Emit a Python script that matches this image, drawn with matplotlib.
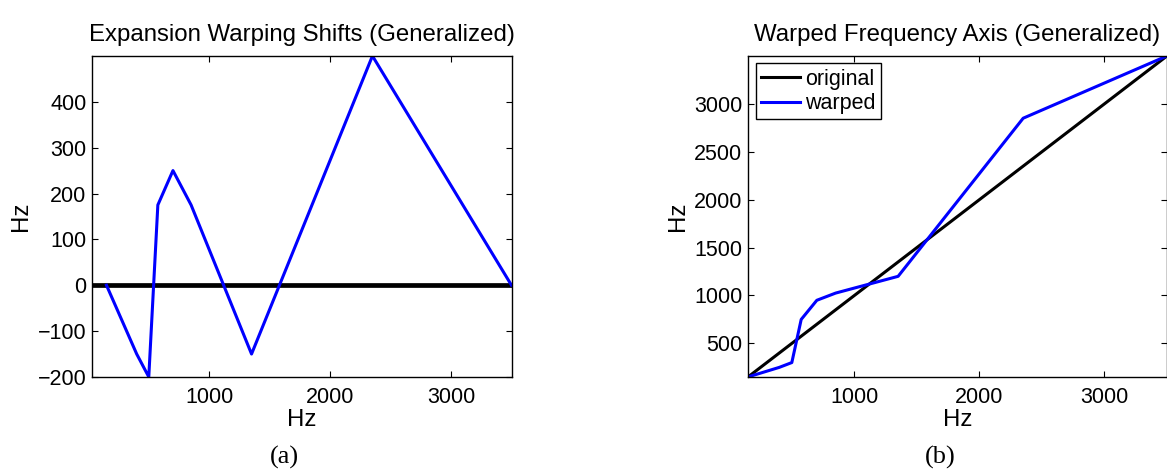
import numpy as np
import matplotlib
matplotlib.use('Agg')
import matplotlib.pyplot as plt

# breakpoints of the piecewise-linear warp (Hz)
freq = [150, 400, 500, 575, 700, 850, 1350, 2350, 3500]
shift = [0, -150, -200, 175, 250, 175, -150, 500, 0]
warped = [f + s for f, s in zip(freq, shift)]

x_ticks = [1000, 2000, 3000]
shift_ticks = [-200, -100, 0, 100, 200, 300, 400]
axis_ticks = [500, 1000, 1500, 2000, 2500, 3000]

plt.rcParams['font.family'] = 'Liberation Sans'
plt.rcParams['axes.linewidth'] = 1.0
plt.rcParams['xtick.direction'] = 'in'
plt.rcParams['ytick.direction'] = 'in'
plt.rcParams['xtick.top'] = True
plt.rcParams['ytick.right'] = True
plt.rcParams['xtick.major.size'] = 4
plt.rcParams['ytick.major.size'] = 4
plt.rcParams['xtick.major.pad'] = 7
plt.rcParams['ytick.major.pad'] = 4

TICK_FS = 15.5
LABEL_FS = 17.3

fig = plt.figure(figsize=(11.67, 4.70), dpi=100, facecolor='white')

# --- (a) shifts ---
ax1 = fig.add_axes([0.0788, 0.198, 0.360, 0.683])
ax1.plot([0, 3500], [0, 0], color='black', linewidth=3.4)
ax1.plot(freq, shift, color='blue', linewidth=2.2)
ax1.set_xlim(30, 3505)
ax1.set_ylim(-200, 500)
ax1.set_xticks(x_ticks)
ax1.set_yticks(shift_ticks)
ax1.tick_params(labelsize=TICK_FS)
ax1.set_title('Expansion Warping Shifts (Generalized)', fontsize=LABEL_FS, pad=11)
ax1.set_xlabel('Hz', fontsize=LABEL_FS, labelpad=1)
ax1.set_ylabel('Hz', fontsize=LABEL_FS, labelpad=4)

# --- (b) warped axis ---
ax2 = fig.add_axes([0.641, 0.198, 0.359, 0.683])
ax2.plot([freq[0], freq[-1]], [freq[0], freq[-1]], color='black',
         linewidth=2.2, label='original')
ax2.plot(freq, warped, color='blue', linewidth=2.2, label='warped')
ax2.set_xlim(150, 3500)
ax2.set_ylim(150, 3500)
ax2.set_xticks(x_ticks)
ax2.set_yticks(axis_ticks)
ax2.tick_params(labelsize=TICK_FS)
ax2.set_title('Warped Frequency Axis (Generalized)', fontsize=LABEL_FS, pad=11)
ax2.set_xlabel('Hz', fontsize=LABEL_FS, labelpad=1)
ax2.set_ylabel('Hz', fontsize=LABEL_FS, labelpad=4)
leg = ax2.legend(loc='upper left', fontsize=TICK_FS, fancybox=False,
                 edgecolor='black', framealpha=1, handlelength=1.8,
                 handletextpad=0.25, borderpad=0.25, labelspacing=0.15,
                 borderaxespad=0.35)
leg.get_frame().set_linewidth(1.0)

# panel captions
fig.text(0.244, 0.002, '(a)', family='Liberation Serif', fontsize=19,
         ha='center', va='bottom')
fig.text(0.806, 0.002, '(b)', family='Liberation Serif', fontsize=19,
         ha='center', va='bottom')

fig.savefig('out.png', dpi=100, facecolor='white')
